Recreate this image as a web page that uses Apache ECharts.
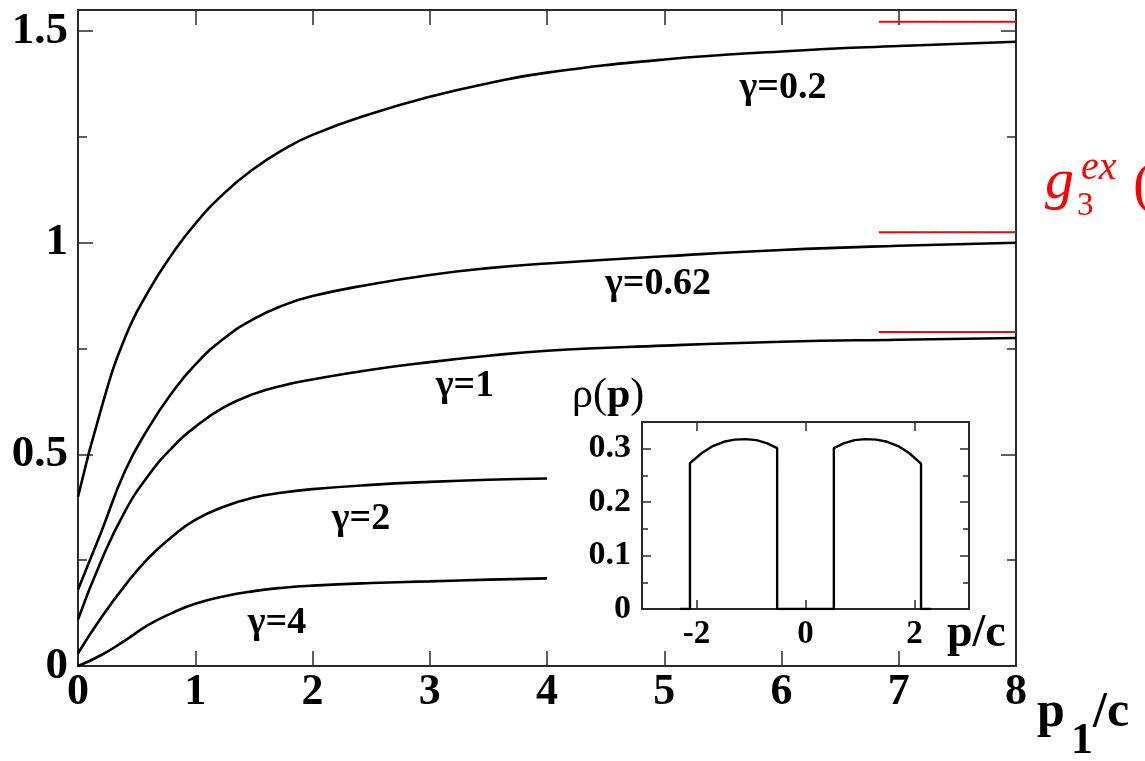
<!DOCTYPE html>
<html><head><meta charset="utf-8">
<script src="https://cdn.jsdelivr.net/npm/echarts@6/dist/echarts.min.js"></script>
<style>html,body{margin:0;padding:0;background:#fff}#c{width:1145px;height:761px}</style>
</head><body><div id="c"></div>
<script>
// ---- data ----
const pFull  = [0, 0.2, 0.4, 0.6, 0.8, 1, 1.25, 1.5, 1.75, 2, 2.5, 3, 3.5, 4, 5, 6, 7, 8];
const pShort = [0, 0.2, 0.4, 0.6, 0.8, 1, 1.25, 1.5, 1.75, 2, 2.5, 3, 3.5, 4];
const gam02  = [0.40, 0.61, 0.775, 0.885, 0.972, 1.045, 1.118, 1.175, 1.22, 1.255, 1.305, 1.345, 1.377, 1.402, 1.433, 1.452, 1.465, 1.475];
const gam062 = [0.18, 0.318, 0.46, 0.562, 0.645, 0.712, 0.775, 0.82, 0.852, 0.874, 0.902, 0.924, 0.94, 0.951, 0.968, 0.983, 0.993, 1.0];
const gam1   = [0.11, 0.25, 0.365, 0.45, 0.515, 0.565, 0.612, 0.643, 0.663, 0.677, 0.7, 0.718, 0.733, 0.745, 0.757, 0.766, 0.771, 0.775];
const gam2   = [0.03, 0.115, 0.19, 0.255, 0.305, 0.345, 0.377, 0.398, 0.41, 0.418, 0.428, 0.435, 0.44, 0.443];
const gam4   = [0.0, 0.026, 0.06, 0.097, 0.125, 0.147, 0.165, 0.177, 0.185, 0.19, 0.196, 0.2, 0.204, 0.207];
const curveNames = ['γ=0.2', 'γ=0.62', 'γ=1', 'γ=2', 'γ=4'];
const limitP = [6.83, 8];
const limitDashP = [7.0, 8];
const limitVals = [1.522, 1.025, 0.789];
const yTicks = [0, 0.5, 1, 1.5];
const yMinor = [0.25, 0.75, 1.25];
const xTicks = [0, 1, 2, 3, 4, 5, 6, 7, 8];
// inset rho(p)
const insetP   = [-2.3, -2.12, -2.12, -1.9, -1.7, -1.5, -1.3, -1.1, -0.9, -0.7, -0.52, -0.52, 0.52, 0.52, 0.7, 0.9, 1.1, 1.3, 1.5, 1.7, 1.9, 2.12, 2.12, 2.3];
const insetRho = [0, 0, 0.273, 0.292, 0.305, 0.313, 0.317, 0.318, 0.316, 0.31, 0.301, 0, 0, 0.301, 0.31, 0.316, 0.318, 0.317, 0.313, 0.305, 0.292, 0.272, 0, 0];
const insetXTicks = [-2, 0, 2];
const insetYTicks = [0, 0.1, 0.2, 0.3];
const insetYMinor = [0.05, 0.15, 0.25];

const zip = (xs, ys) => xs.map((x, i) => [x, ys[i]]);
const FF = 'Liberation Serif';
const AX = '#2a2a2a';

function xAx(grid, pos, min, max, interval, ticks, labels, tickLen, labelSize, margin) {
  return {
    type: 'value', gridIndex: grid, position: pos, min, max, interval,
    axisLine: { show: true, onZero: false, lineStyle: { color: AX, width: 2 } },
    axisTick: { show: true, inside: true, length: tickLen, customValues: ticks, lineStyle: { color: AX, width: 1.5 } },
    axisLabel: labels ? { show: true, customValues: ticks, margin, color: '#000', fontFamily: FF, fontWeight: 'bold', fontSize: labelSize } : { show: false },
    splitLine: { show: false }
  };
}
function yAx(grid, pos, min, max, interval, ticks, labels, tickLen, labelSize, margin, line) {
  return {
    type: 'value', gridIndex: grid, position: pos, min, max, interval,
    axisLine: { show: line, onZero: false, lineStyle: { color: AX, width: 2 } },
    axisTick: { show: true, inside: true, length: tickLen, customValues: ticks, lineStyle: { color: AX, width: 1.5 } },
    axisLabel: labels ? { show: true, customValues: ticks, margin, color: '#000', fontFamily: FF, fontWeight: 'bold', fontSize: labelSize } : { show: false },
    splitLine: { show: false }
  };
}

const lineSeries = (data, xi, yi, extra) => Object.assign({
  type: 'line', xAxisIndex: xi, yAxisIndex: yi, data, symbol: 'none',
  smooth: 0.5, lineStyle: { color: '#000', width: 2.6 }, z: 3
}, extra || {});

const series = [
  lineSeries(zip(pFull, gam02), 0, 0),
  lineSeries(zip(pFull, gam062), 0, 0),
  lineSeries(zip(pFull, gam1), 0, 0),
  lineSeries(zip(pShort, gam2), 0, 0),
  lineSeries(zip(pShort, gam4), 0, 0)
];
limitVals.forEach(v => {
  series.push({ type: 'line', xAxisIndex: 0, yAxisIndex: 0, symbol: 'none', data: limitP.map(p => [p, v]),
    lineStyle: { color: '#ff0000', width: 2 }, z: 4 });
  series.push({ type: 'line', xAxisIndex: 0, yAxisIndex: 0, symbol: 'none', data: limitDashP.map(p => [p, v]),
    lineStyle: { color: '#555', width: 1, type: [7, 4], opacity: 0.6 }, z: 5 });
});
series.push({ type: 'line', xAxisIndex: 2, yAxisIndex: 4, symbol: 'none', data: zip(insetP, insetRho),
  lineStyle: { color: '#000', width: 2.4 }, z: 6 });

const txt = (text, x, y, size, opts) => ({
  type: 'text', x, y, z: 100,
  style: Object.assign({ text, fontFamily: FF, fontWeight: 'bold', fontSize: size, fill: '#000', align: 'center', verticalAlign: 'middle' }, opts || {})
});

const option = {
  animation: false,
  backgroundColor: '#fff',
  grid: [
    { left: 78, top: 10, width: 938, height: 656, show: false },
    { left: 642, top: 422, width: 327, height: 187, show: true, backgroundColor: '#fff', borderWidth: 0, z: 5 }
  ],
  xAxis: [
    xAx(0, 'bottom', 0, 8, 1, xTicks, true, 15, 44, 5),
    xAx(0, 'top', 0, 8, 1, xTicks, false, 15),
    Object.assign(xAx(1, 'bottom', -3, 3, 1, insetXTicks, true, 9, 33, 9), { z: 6 }),
    Object.assign(xAx(1, 'top', -3, 3, 1, insetXTicks, false, 9), { z: 6 })
  ],
  yAxis: [
    yAx(0, 'left', 0, 1.55, 0.5, yTicks, true, 15, 45, 10, true),
    yAx(0, 'right', 0, 1.55, 0.5, yTicks, false, 15, 0, 0, true),
    yAx(0, 'left', 0, 1.55, 0.25, yMinor, false, 9, 0, 0, false),
    yAx(0, 'right', 0, 1.55, 0.25, yMinor, false, 9, 0, 0, false),
    Object.assign(yAx(1, 'left', 0, 0.35, 0.05, insetYTicks, true, 9, 34, 11, true), { z: 6 }),
    Object.assign(yAx(1, 'right', 0, 0.35, 0.05, insetYTicks, false, 9, 0, 0, true), { z: 6 }),
    Object.assign(yAx(1, 'left', 0, 0.35, 0.05, insetYMinor, false, 6, 0, 0, false), { z: 6 }),
    Object.assign(yAx(1, 'right', 0, 0.35, 0.05, insetYMinor, false, 6, 0, 0, false), { z: 6 })
  ],
  series,
  graphic: [
    txt(curveNames[0], 783, 88, 38),
    txt(curveNames[1], 658, 284, 38),
    txt(curveNames[2], 465, 386, 38),
    txt(curveNames[3], 361, 519, 38),
    txt(curveNames[4], 277, 623, 38),
    { type: 'text', x: 572, y: 396, z: 100, style: {
        text: '{a|ρ}{b|(}{c|p}{b|)}', align: 'left', verticalAlign: 'middle',
        rich: {
          a: { fontFamily: FF, fontSize: 42, fill: '#000' },
          b: { fontFamily: FF, fontSize: 42, fill: '#000' },
          c: { fontFamily: FF, fontSize: 42, fontWeight: 'bold', fill: '#000' }
        } } },
    txt('p/c', 947, 634, 46, { align: 'left' }),
    txt('p', 1037, 713, 50, { align: 'left' }),
    txt('1', 1071, 742, 44, { align: 'left' }),
    txt('/c', 1093, 713, 50, { align: 'left' }),
    txt('g', 1045, 183, 58, { align: 'left', fontWeight: 'normal', fontStyle: 'italic', fill: '#ff0000' }),
    txt('ex', 1081, 168, 40, { align: 'left', fontWeight: 'normal', fontStyle: 'italic', fill: '#ff0000' }),
    txt('3', 1077, 206, 33, { align: 'left', fontWeight: 'normal', fill: '#ff0000' }),
    txt('(', 1133, 187, 58, { align: 'left', fontWeight: 'normal', fill: '#ff0000' })
  ]
};
const chart = echarts.init(document.getElementById('c'), null, { renderer: 'canvas' });
chart.setOption(option);
</script></body></html>
